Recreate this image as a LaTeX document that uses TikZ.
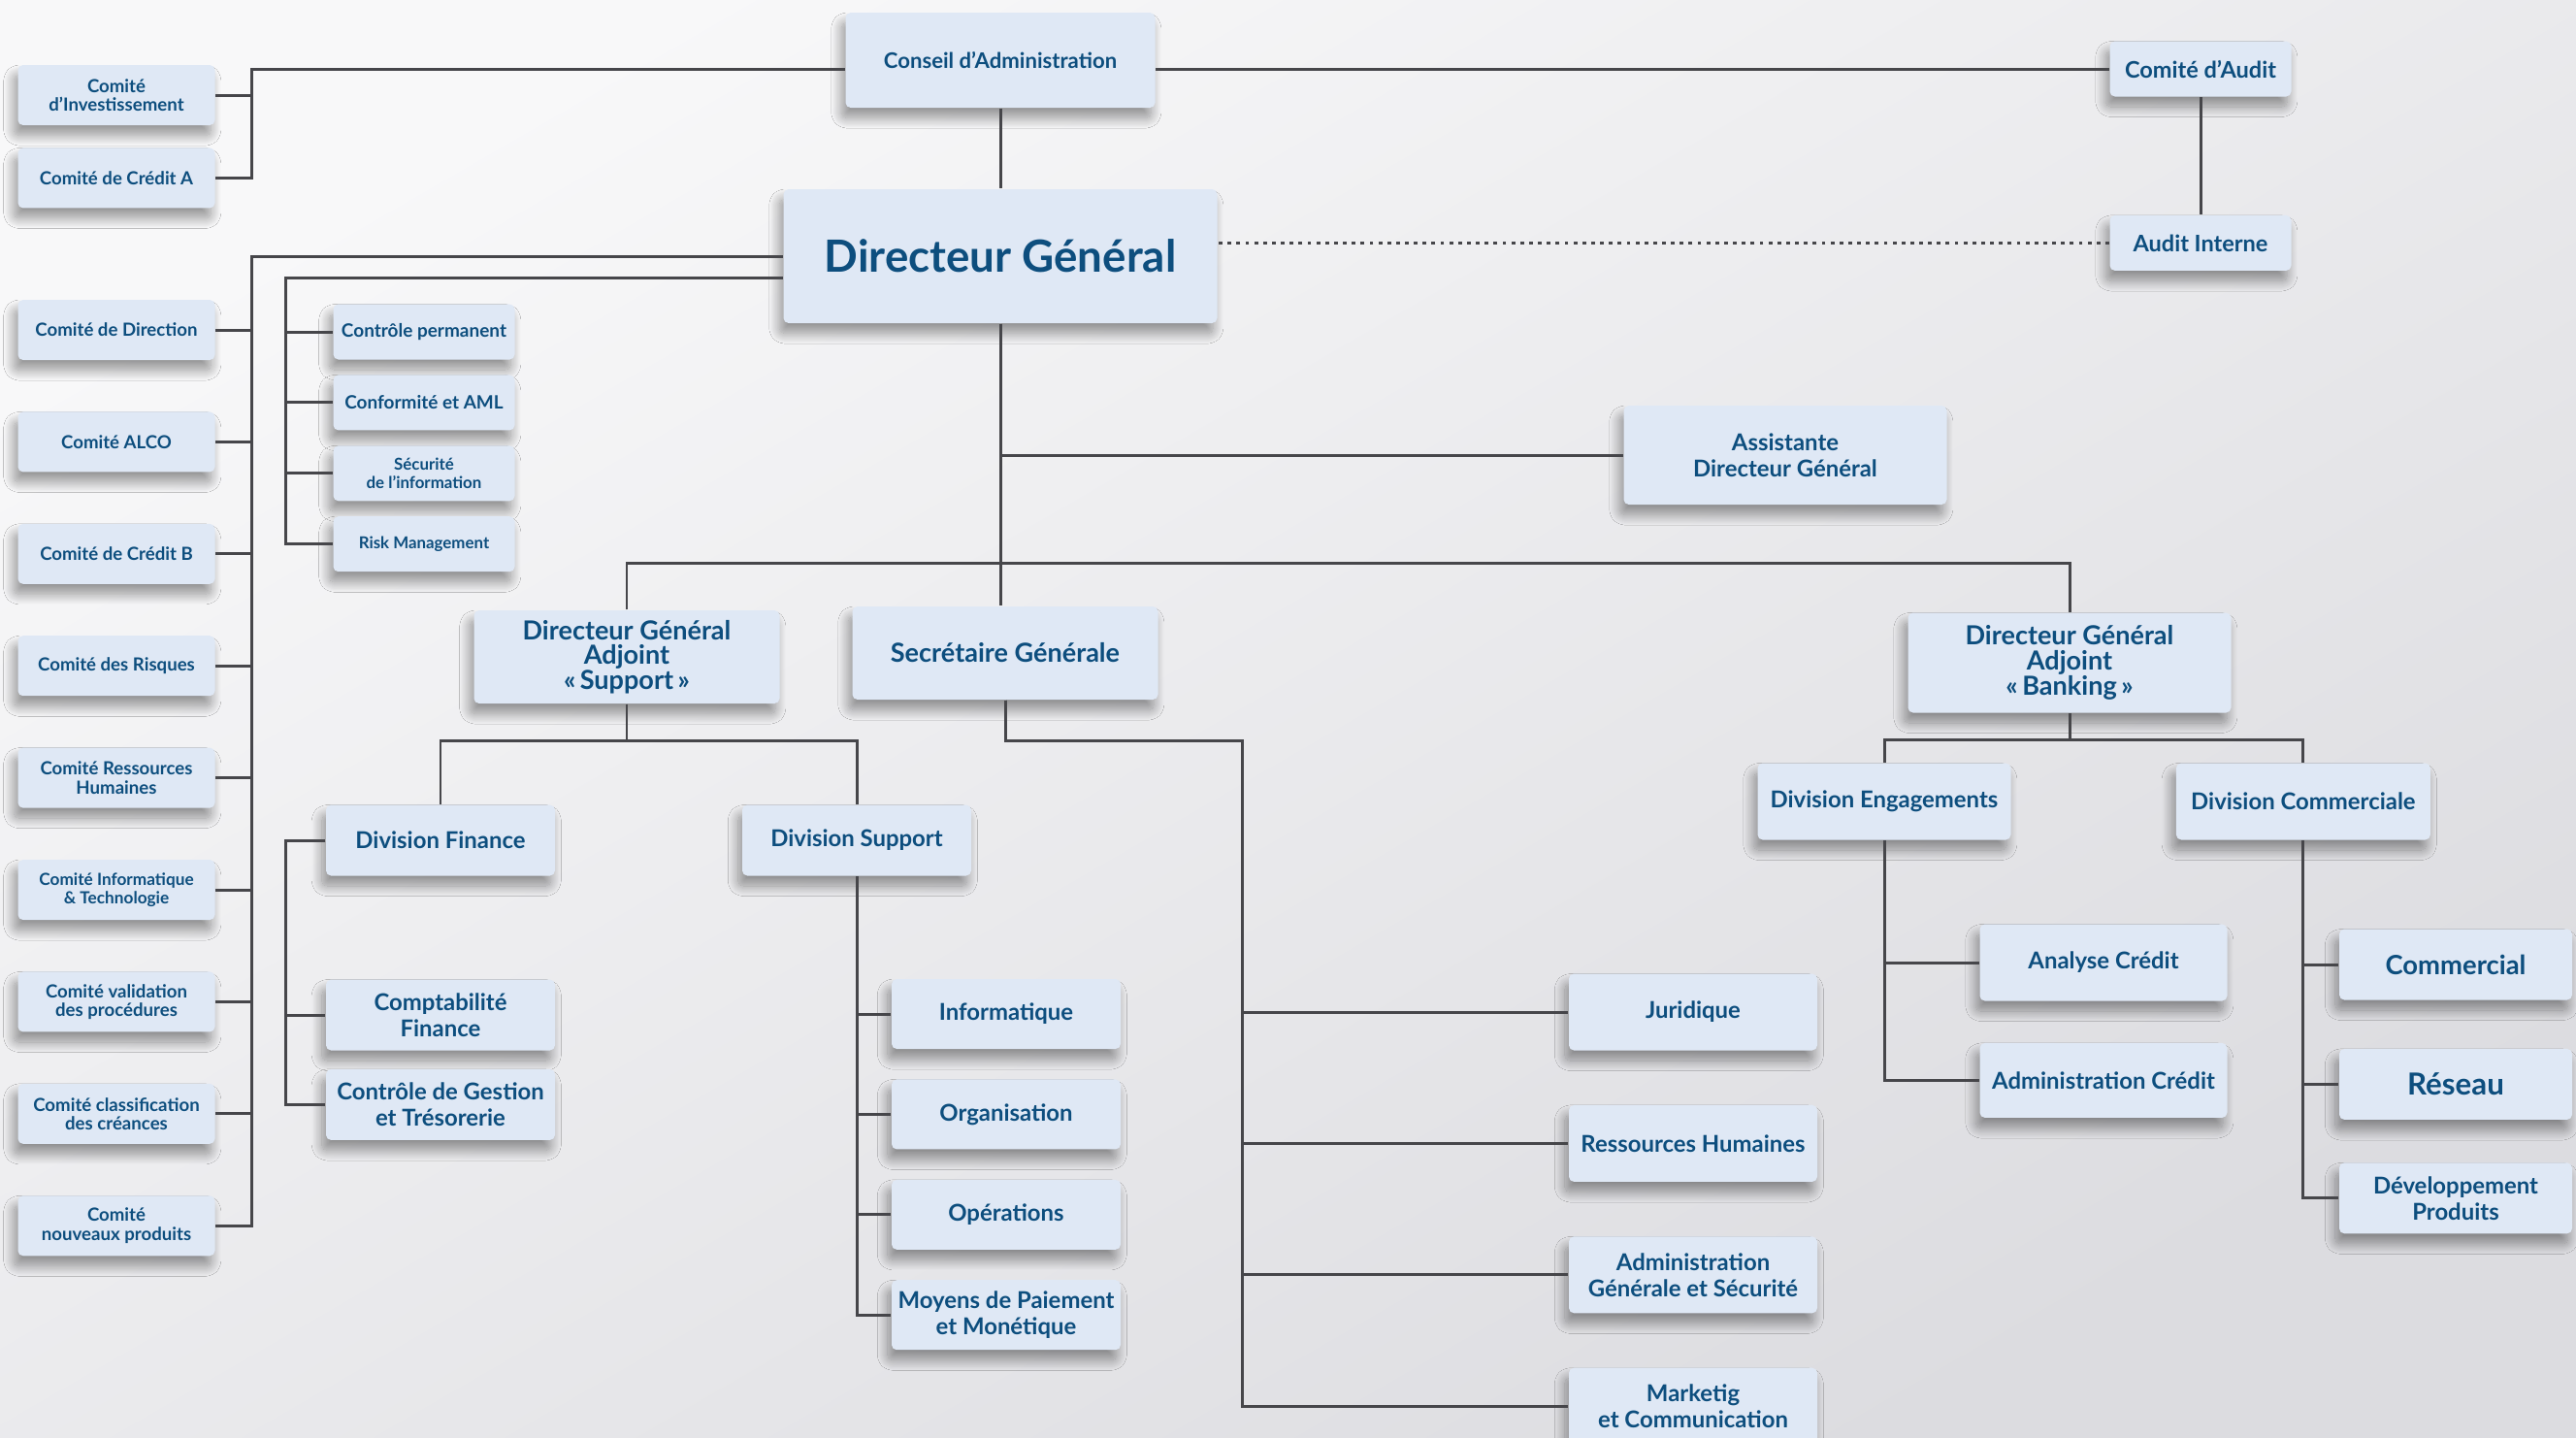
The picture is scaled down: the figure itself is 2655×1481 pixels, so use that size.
\documentclass[tikz,border=0pt]{standalone}
\usepackage{fontspec}
\setmainfont{Lato}
\usetikzlibrary{positioning,calc,shadows.blur}
\definecolor{boxblue}{RGB}{223,232,245}
\definecolor{txtblue}{RGB}{13,78,126}
\definecolor{linegray}{RGB}{70,70,74}
\definecolor{bgtop}{RGB}{248,248,249}
\definecolor{bgbot}{RGB}{220,220,224}
\tikzstyle{obox}=[rectangle, rounded corners=1.5pt, fill=boxblue, text=txtblue, align=center,
                  inner sep=1pt, blur shadow={shadow xshift=-1.2pt, shadow yshift=-3pt,
                  shadow blur radius=3pt, shadow opacity=40, shadow blur steps=20}]
\tikzstyle{cbox}=[obox, minimum width=20.3mm, minimum height=6.2mm,
                  font=\fontsize{5.3}{5.5}\selectfont\bfseries]
\tikzstyle{kbox}=[obox, minimum width=18.7mm, minimum height=5.7mm,
                  font=\fontsize{5.4}{5.8}\selectfont\bfseries]
\tikzstyle{abox}=[obox, minimum width=18.7mm, minimum height=5.7mm,
                  font=\fontsize{6.7}{7.5}\selectfont\bfseries]
\tikzstyle{hbox}=[obox, minimum width=31.5mm, minimum height=9.6mm,
                  font=\fontsize{7.7}{7.3}\selectfont\bfseries]
\tikzstyle{dbox}=[obox, minimum width=23.6mm, minimum height=7.3mm,
                  font=\fontsize{6.8}{7.7}\selectfont\bfseries]
\tikzstyle{pline}=[-, line width=0.85pt, draw=linegray]

\begin{document}
\begin{tikzpicture}[x=0.1mm, y=-0.1mm]
\useasboundingbox (0,0) rectangle (2655,1481);
\shade[top color=bgtop, bottom color=bgbot, shading angle=30] (0,0) rectangle (2655,1481);

\node (CA) [obox, minimum width=31.9mm, minimum height=9.8mm,
  font=\fontsize{6.3}{7}\selectfont\bfseries] at (1031,62) {Conseil d’Administration};
\node (DG) [obox, minimum width=44.7mm, minimum height=13.8mm,
  font=\fontsize{13}{15}\selectfont\bfseries] at (1031,264) {Directeur Général};
\node (CAUD) [abox] at (2268,71) {Comité d’Audit};
\node (AI) [abox, below=12.1mm of CAUD] {Audit Interne};

\node (CI) [cbox] at (120,98) {Comité\\d’Investissement};
\node (CCA) [cbox, below=2.2mm of CI] {Comité de Crédit A};
\node (CDIR) [cbox] at (120,340) {Comité de Direction};
\node (ALCO) [cbox, below=5.2mm of CDIR] {Comité ALCO};
\node (CCB) [cbox, below=5.2mm of ALCO] {Comité de Crédit B};
\node (RISQ) [cbox, below=5.2mm of CCB] {Comité des Risques};
\node (CRH) [cbox, below=5.2mm of RISQ] {Comité Ressources\\Humaines};
\node (CIT) [cbox, below=5.2mm of CRH, font=\fontsize{4.9}{5.6}\selectfont\bfseries] {Comité Informatique\\\& Technologie};
\node (CVAL) [cbox, below=5.2mm of CIT] {Comité validation\\des procédures};
\node (CCLA) [cbox, below=5.2mm of CVAL] {Comité classification\\des créances};
\node (CNP) [cbox, below=5.2mm of CCLA] {Comité\\nouveaux produits};

\node (CPER) [kbox] at (437,342) {Contrôle permanent};
\node (CAML) [kbox, below=1.45mm of CPER] {Conformité et AML};
\node (SECI) [kbox, below=1.45mm of CAML, font=\fontsize{4.8}{5.6}\selectfont\bfseries] {Sécurité\\de l’information};
\node (RISK) [kbox, below=1.45mm of SECI, font=\fontsize{4.8}{5.6}\selectfont\bfseries] {Risk Management};

\node (ASS) [dbox, minimum width=33.3mm, minimum height=10.2mm] at (1840,469) {Assistante\\Directeur Général};

\node (DGAS) [hbox] at (646,677) {Directeur Général\\Adjoint\\«\,Support\,»};
\node (SG) [hbox] at (1036,673) {Secrétaire Générale};
\node (DGAB) [hbox, minimum width=33.3mm, minimum height=10.3mm] at (2133,683) {Directeur Général\\Adjoint\\«\,Banking\,»};

\node (DFIN) [dbox] at (454,866) {Division Finance};
\node (DSUP) [dbox] at (883,866) {Division Support};
\node (CFIN) [dbox] at (454,1046) {Comptabilité\\Finance};
\node (CGES) [dbox, below=1.8mm of CFIN] {Contrôle de Gestion\\et Trésorerie};

\node (INFO) [dbox, minimum height=7.2mm] at (1037,1045) {Informatique};
\node (ORGA) [dbox, minimum height=7.2mm, below=3mm of INFO] {Organisation};
\node (OPER) [dbox, minimum height=7.2mm, below=3mm of ORGA] {Opérations};
\node (MPAY) [dbox, minimum height=7.2mm, below=3mm of OPER] {Moyens de Paiement\\et Monétique};

\node (JUR) [dbox, minimum width=25.6mm, minimum height=7.9mm] at (1745,1043) {Juridique};
\node (RHUM) [dbox, minimum width=25.6mm, minimum height=7.9mm, below=5.5mm of JUR] {Ressources Humaines};
\node (AGS) [dbox, minimum width=25.6mm, minimum height=7.9mm, below=5.5mm of RHUM] {Administration\\Générale et Sécurité};
\node (MKT) [dbox, minimum width=25.6mm, minimum height=7.9mm, below=5.5mm of AGS] {Marketig\\et Communication};

\node (DENG) [dbox, minimum width=26.1mm, minimum height=7.9mm] at (1942,826) {Division Engagements};
\node (DCOM) [dbox, minimum width=26.2mm, minimum height=7.9mm, right=16.9mm of DENG] {Division Commerciale};
\node (ACR) [dbox, minimum width=25.5mm, minimum height=7.9mm] at (2168,992) {Analyse Crédit};
\node (ADCR) [dbox, minimum width=25.5mm, minimum height=7.7mm, below=4.2mm of ACR] {Administration Crédit};
\node (COMM) [dbox, minimum width=24mm, font=\fontsize{7.8}{8.5}\selectfont\bfseries] at (2531,994) {Commercial};
\node (RES) [dbox, minimum width=24mm, below=4.9mm of COMM, font=\fontsize{8.9}{9.5}\selectfont\bfseries] {Réseau};
\node (DEVP) [dbox, minimum width=24mm, below=4.3mm of RES] {Développement\\Produits};

\draw[pline] (CA.south) -- (DG.north);
\draw[pline] (CI.east) -- ++(37,0) |- (CA.west |- CAUD.west);
\draw[pline] (CCA.east) -- ++(37,0) |- (CA.west |- CAUD.west);
\draw[pline] (CA.east |- CAUD.west) -- (CAUD.west);
\draw[pline] (CAUD.south) -- (AI.north);
\draw[pline, dash pattern=on 1.1pt off 1.5pt] (AI.west) -- (AI.west -| DG.east);

\draw[pline] (CDIR.east) -- ++(37,0) |- (DG.west);
\draw[pline] (ALCO.east) -- ++(37,0) |- (DG.west);
\draw[pline] (CCB.east) -- ++(37,0) |- (DG.west);
\draw[pline] (RISQ.east) -- ++(37,0) |- (DG.west);
\draw[pline] (CRH.east) -- ++(37,0) |- (DG.west);
\draw[pline] (CIT.east) -- ++(37,0) |- (DG.west);
\draw[pline] (CVAL.east) -- ++(37,0) |- (DG.west);
\draw[pline] (CCLA.east) -- ++(37,0) |- (DG.west);
\draw[pline] (CNP.east) -- ++(37,0) |- (DG.west);

\draw[pline] (CPER.west) -- ++(-48,0) |- ($(DG.west)+(0,22)$);
\draw[pline] (CAML.west) -- ++(-48,0) |- ($(DG.west)+(0,22)$);
\draw[pline] (SECI.west) -- ++(-48,0) |- ($(DG.west)+(0,22)$);
\draw[pline] (RISK.west) -- ++(-48,0) |- ($(DG.west)+(0,22)$);

\draw[pline] (DG.south) |- (ASS.west);
\draw[pline] (DG.south) -- (DG.south |- SG.north);
\draw[pline] (DGAS.north) -- ++(0,-48) -| (DGAB.north);

\draw[pline] (DGAS.south) -- ++(0,38) -| (DFIN.north);
\draw[pline] (DGAS.south) -- ++(0,38) -| (DSUP.north);
\draw[pline] (DFIN.west) -- ++(-41,0) |- (CFIN.west);
\draw[pline] (DFIN.west) -- ++(-41,0) |- (CGES.west);
\draw[pline] (DSUP.south) |- (INFO.west);
\draw[pline] (DSUP.south) |- (ORGA.west);
\draw[pline] (DSUP.south) |- (OPER.west);
\draw[pline] (DSUP.south) |- (MPAY.west);

\draw[pline] (SG.south) -- ++(0,42) -| ++(244,0) |- (JUR.west);
\draw[pline] (SG.south) -- ++(0,42) -| ++(244,0) |- (RHUM.west);
\draw[pline] (SG.south) -- ++(0,42) -| ++(244,0) |- (AGS.west);
\draw[pline] (SG.south) -- ++(0,42) -| ++(244,0) |- (MKT.west);

\draw[pline] (DGAB.south) -- ++(0,27) -| (DENG.north);
\draw[pline] (DGAB.south) -- ++(0,27) -| (DCOM.north);
\draw[pline] (DENG.south) |- (ACR.west);
\draw[pline] (DENG.south) |- (ADCR.west);
\draw[pline] (DCOM.south) |- (COMM.west);
\draw[pline] (DCOM.south) |- (RES.west);
\draw[pline] (DCOM.south) |- (DEVP.west);

\end{tikzpicture}
\end{document}
